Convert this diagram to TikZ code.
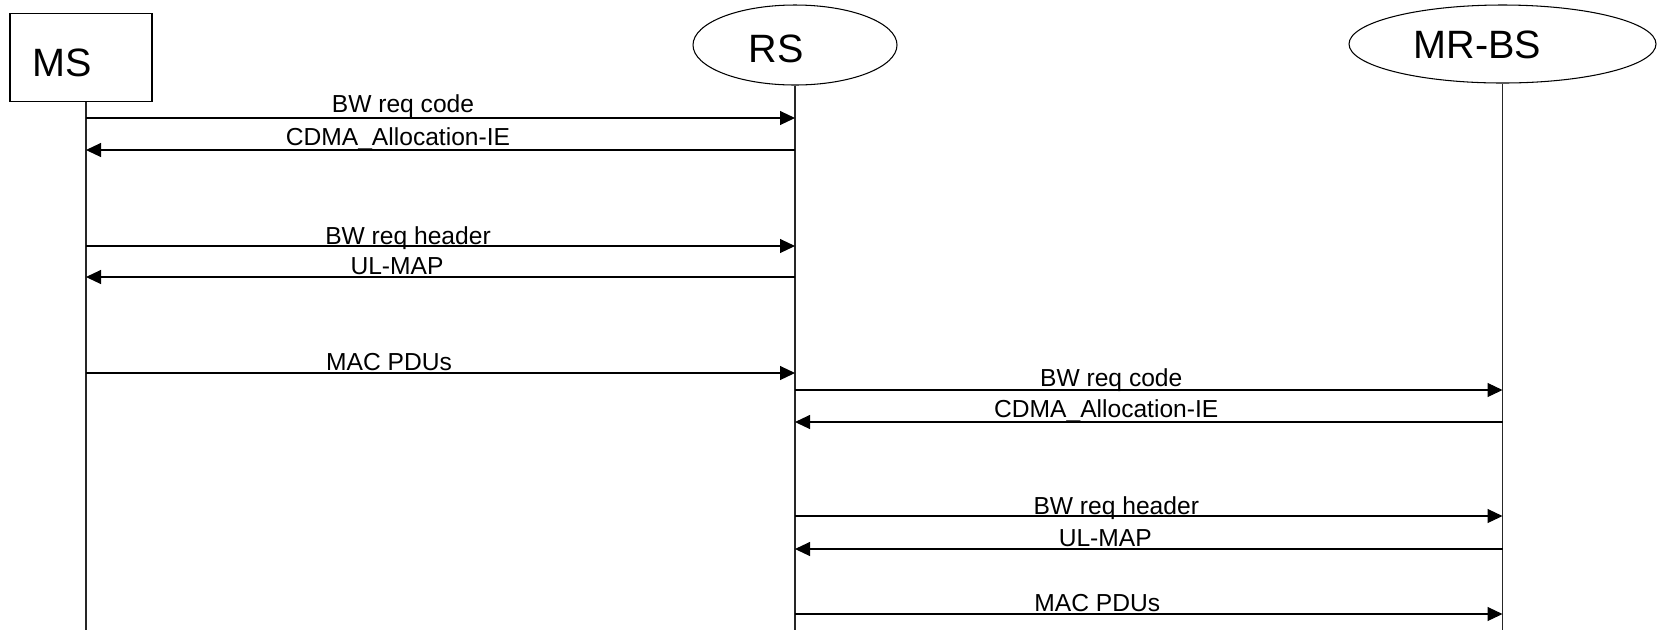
\documentclass[tikz,border=0pt]{standalone}
\usepackage{fontspec}
\setmainfont{Liberation Sans}
\usetikzlibrary{arrows.meta,positioning,shapes.geometric}

\begin{document}
\begin{tikzpicture}[
    entity/.style={draw, line width=0.6pt, inner sep=0pt},
    lifeline/.style={line width=0.65pt, draw=black!85},
    msg/.style={line width=0.6pt, -{Triangle[length=0.3cm, width=0.28cm]}},
    msglabel/.style={font=\fontsize{14}{16}\selectfont, anchor=base, inner sep=0pt},
    title/.style={font=\fontsize{22.5}{26}\selectfont, inner sep=0pt}]
    \useasboundingbox (0,0) rectangle (33.2,-12.6);

    % Entities
    \node[entity, minimum width=2.84cm, minimum height=1.76cm] (ms) at (1.62,-1.15) {};
    \node[entity, ellipse, minimum width=4.08cm, minimum height=1.6cm] (rs) at (15.9,-0.9) {};
    \node[entity, ellipse, minimum width=6.14cm, minimum height=1.56cm] (bs) at (30.05,-0.88) {};
    \node[title] (ms-name) at ([shift={(-0.38,-0.1)}]ms.center) {MS};
    \node[title] (rs-name) at ([shift={(-0.38,-0.08)}]rs.center) {RS};
    \node[title] (bs-name) at ([shift={(-0.5,-0.02)}]bs.center) {MR-BS};

    % Lifelines
    \coordinate (msl) at (1.72,0);
    \coordinate (rsl) at (rs.center);
    \coordinate (bsl) at (bs.center);
    \coordinate (bottom) at (0,-12.6);
    \draw[lifeline] (msl |- ms.south) -- (msl |- bottom);
    \draw[lifeline] (rs.south) -- (rsl |- bottom);
    \draw[lifeline] (bs.south) -- (bsl |- bottom);

    % Messages
    \foreach \y/\from/\to/\dx/\dy/\txt in {
        2.36/msl/rsl/-0.75/0.11/BW req code,
        3.0/rsl/msl/-0.85/0.1/CDMA\_Allocation-IE,
        4.92/msl/rsl/-0.65/0.04/BW req header,
        5.54/rsl/msl/-0.87/0.05/UL-MAP,
        7.46/msl/rsl/-1.03/0.05/MAC PDUs,
        7.8/rsl/bsl/-0.75/0.07/BW req code,
        8.44/bsl/rsl/-0.85/0.1/CDMA\_Allocation-IE,
        10.32/rsl/bsl/-0.65/0.04/BW req header,
        10.98/bsl/rsl/-0.87/0.05/UL-MAP,
        12.28/rsl/bsl/-1.03/0.05/MAC PDUs}
        \draw[msg] (\from |- 0,-\y) -- node[msglabel, xshift=\dx cm, yshift=\dy cm] {\txt} (\to |- 0,-\y);
\end{tikzpicture}
\end{document}
